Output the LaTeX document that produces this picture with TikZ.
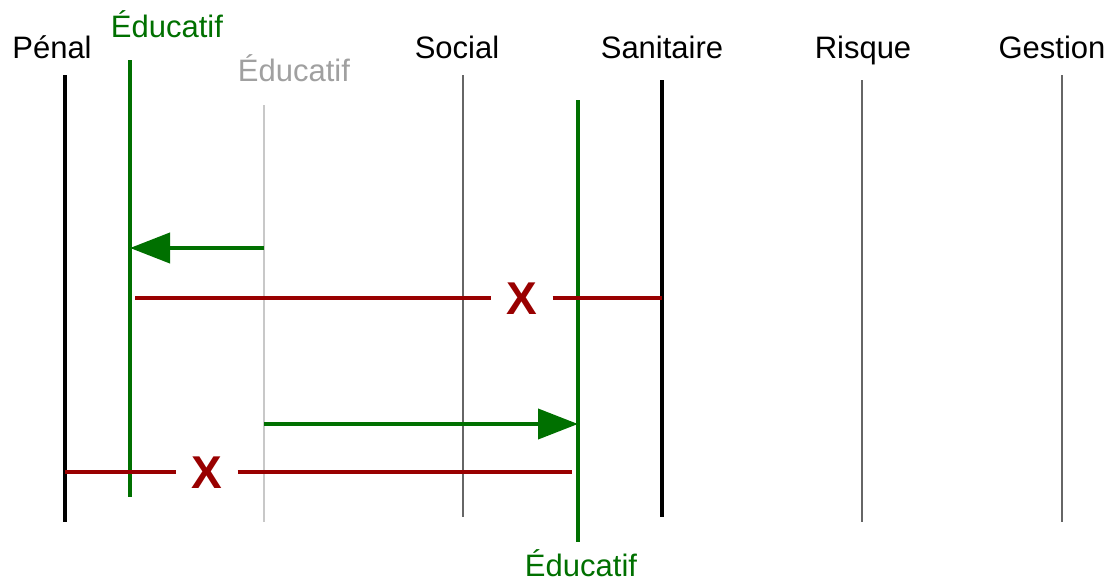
\documentclass[tikz,border=0pt]{standalone}
\usepackage{fontspec}
\setmainfont{Liberation Sans}
\usetikzlibrary{arrows.meta}
\definecolor{edugreen}{RGB}{0,112,0}
\definecolor{refusred}{RGB}{153,0,0}
\definecolor{pale}{RGB}{200,200,200}
\definecolor{palelabel}{RGB}{160,160,160}
\tikzset{
  lbl/.style={anchor=base,font=\fontsize{15.5}{18}\selectfont,inner sep=0pt},
  axe/.style={line width=0.75pt,draw=black!60},
  fort/.style={line width=2pt},
  vers/.style={edugreen,line width=2pt,-{Triangle[length=20pt,width=15pt]}},
  refus/.style={refusred,line width=2pt},
  croix/.style={text=refusred,font=\fontsize{23}{25}\selectfont\bfseries,inner xsep=7.5pt,inner ysep=0pt}
}

\begin{document}
\begin{tikzpicture}[x=0.5pt,y=-0.5pt]
\useasboundingbox (0,0) rectangle (1109,584);
% labels
\node[lbl] (penal) at (52,58) {Pénal};
\node[lbl,text=edugreen] (edu1) at (167,37) {Éducatif};
\node[lbl,text=palelabel] (edu0) at (294,81) {Éducatif};
\node[lbl] (social) at (457,58) {Social};
\node[lbl] (sanit) at (662,58) {Sanitaire};
\node[lbl] (risque) at (863,58) {Risque};
\node[lbl] (gestion) at (1052,58) {Gestion};
\node[lbl,text=edugreen] (edu2) at (581,576) {Éducatif};
% axes
\coordinate (p1) at (65,75);   \coordinate (p2) at (65,522);
\coordinate (e1) at (130,60);  \coordinate (e2) at (130,497);
\coordinate (g1) at (264,105); \coordinate (g2) at (264,522);
\coordinate (s1) at (463,75);  \coordinate (s2) at (463,517);
\coordinate (f1) at (578,100); \coordinate (f2) at (578,542);
\coordinate (h1) at (662,80);  \coordinate (h2) at (662,517);
\coordinate (r1) at (862,80);  \coordinate (r2) at (862,522);
\coordinate (t1) at (1062,75); \coordinate (t2) at (1062,522);
\draw[fort] (p1) -- (p2);
\draw[fort,edugreen] (e1) -- (e2);
\draw[line width=0.75pt,pale] (g1) -- (g2);
\draw[axe] (s1) -- (s2);
\draw[fort,edugreen] (f1) -- (f2);
\draw[fort] (h1) -- (h2);
\draw[axe] (r1) -- (r2);
\draw[axe] (t1) -- (t2);
% passages
\coordinate (a1) at (264,248); \coordinate (a2) at (130,248);
\draw[vers] (a1) -- (a2);
\coordinate (b1) at (135,298); \coordinate (b2) at (662,298);
\node[croix] (x1) at (522,299) {X};
\draw[refus] (b1) -- (x1.west |- b1) (x1.east |- b1) -- (b2);
\coordinate (c1) at (264,424); \coordinate (c2) at (578,424);
\draw[vers] (c1) -- (c2);
\coordinate (d1) at (65,472); \coordinate (d2) at (572,472);
\node[croix] (x2) at (207,473) {X};
\draw[refus] (d1) -- (x2.west |- d1) (x2.east |- d1) -- (d2);
\end{tikzpicture}
\end{document}
